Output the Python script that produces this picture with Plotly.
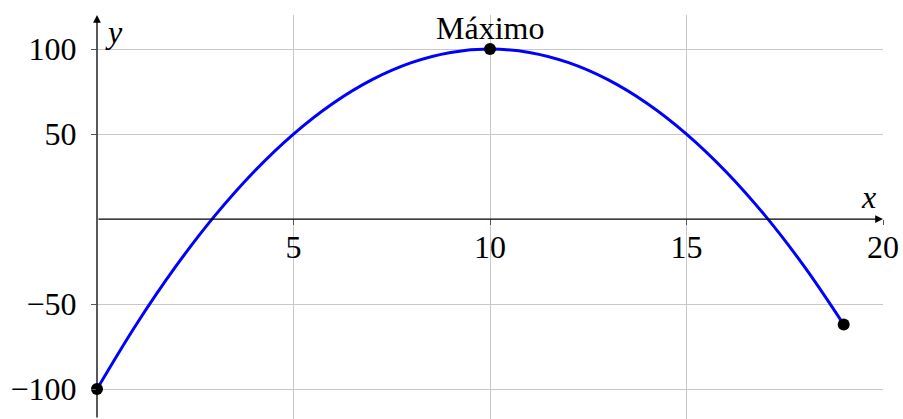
import plotly.graph_objects as go

# Curve samples
x_vals = [0, 1, 2, 3, 4, 5, 6, 7, 8, 9, 10, 11, 12, 13, 14, 15, 16, 17, 18, 19]
y_vals = [-100, -62, -28, 2, 28, 50, 68, 82, 92, 98, 100, 98, 92, 82, 68, 50, 28, 2, -28, -62]

# Highlighted points
dot_x = [0, 10, 19]
dot_y = [-100, 100, -62]

# Axis ticks
x_ticks = [5, 10, 15, 20]
x_ticktext = ["5", "10", "15", "20"]
y_ticks = [-100, -50, 50, 100]
y_ticktext = ["\u2212100", "\u221250", "50", "100"]

X_RANGE = [0, 20]
Y_RANGE = [-117.6, 120]

FONT = "Liberation Serif"
FSIZE = 32
GRID = "#c8c8c8"

fig = go.Figure()
fig.add_trace(go.Scatter(
    x=x_vals, y=y_vals, mode="lines",
    line=dict(color="#0000ff", width=3, shape="spline", smoothing=1.0),
    cliponaxis=False, hoverinfo="skip", showlegend=False,
))
fig.add_trace(go.Scatter(
    x=dot_x, y=dot_y, mode="markers",
    marker=dict(color="black", size=12),
    cliponaxis=False, showlegend=False,
))
# invisible trace to carry the tick axis drawn along y = 0
fig.add_trace(go.Scatter(
    x=[X_RANGE[0]], y=[0], xaxis="x2", mode="markers",
    marker=dict(opacity=0), showlegend=False, hoverinfo="skip",
))

zero_pos = (0 - Y_RANGE[0]) / (Y_RANGE[1] - Y_RANGE[0])

fig.update_layout(
    width=903, height=419,
    margin=dict(l=97, r=20, t=15, b=0),
    paper_bgcolor="white", plot_bgcolor="white",
    font=dict(family=FONT, size=FSIZE, color="black"),
    xaxis=dict(
        range=X_RANGE, tickvals=x_ticks, showticklabels=False,
        showgrid=True, gridcolor=GRID, gridwidth=1,
        zeroline=False, showline=False, ticks="",
    ),
    xaxis2=dict(
        range=X_RANGE, overlaying="x", anchor="free", position=zero_pos,
        side="bottom", tickvals=x_ticks, ticktext=x_ticktext,
        showgrid=False, zeroline=False, showline=False,
        ticks="outside", ticklen=5, tickcolor="#555555", tickwidth=1,
        ticklabelstandoff=-5,
        tickfont=dict(family=FONT, size=FSIZE, color="black"),
    ),
    yaxis=dict(
        range=Y_RANGE, tickvals=y_ticks, ticktext=y_ticktext,
        showgrid=True, gridcolor=GRID, gridwidth=1,
        zeroline=False, showline=False,
        ticks="outside", ticklen=5, tickcolor="#555555", tickwidth=1,
        ticklabelstandoff=8,
        tickfont=dict(family=FONT, size=FSIZE, color="black"),
    ),
    showlegend=False,
)

# axis lines with arrow tips
fig.add_annotation(x=X_RANGE[1], y=0, ax=0, ay=0, axref="x", ayref="y",
                   xref="x", yref="y", text="", showarrow=True,
                   arrowhead=2, arrowsize=1.2, arrowwidth=1.3, arrowcolor="black",
                   standoff=0, startstandoff=0)
fig.add_annotation(x=0, y=Y_RANGE[1], ax=0, ay=Y_RANGE[0], axref="x", ayref="y",
                   xref="x", yref="y", text="", showarrow=True,
                   arrowhead=2, arrowsize=1.2, arrowwidth=1.3, arrowcolor="black",
                   standoff=0, startstandoff=0)

# axis names
fig.add_annotation(x=19.62, y=0, xref="x", yref="y", text="<i>x</i>",
                   showarrow=False, yanchor="bottom", yshift=2,
                   font=dict(family=FONT, size=FSIZE))
fig.add_annotation(x=0, y=Y_RANGE[1], xref="x", yref="y", text="<i>y</i>",
                   showarrow=False, xanchor="left", yanchor="top", xshift=6, yshift=3,
                   font=dict(family=FONT, size=FSIZE))

# label of the peak
fig.add_annotation(x=dot_x[1], y=dot_y[1], xref="x", yref="y", text="Máximo",
                   showarrow=False, yanchor="bottom", yshift=1,
                   font=dict(family=FONT, size=FSIZE))

fig.write_html("out.html")
